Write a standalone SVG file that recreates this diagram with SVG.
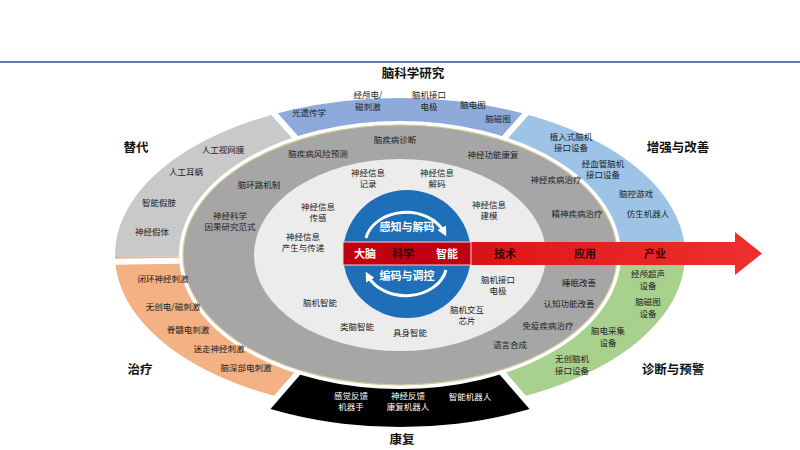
<svg xmlns="http://www.w3.org/2000/svg" width="800" height="450" viewBox="0 0 800 450">
<style>
text{font-family:"Noto Sans CJK SC","Noto Sans",sans-serif;text-anchor:middle;}
.s{font-size:8.5px;fill:#222;}
.sw{font-size:8.5px;fill:#fff;}
.c{font-size:12.5px;font-weight:bold;fill:#111;}
.b{font-size:11px;font-weight:bold;}
.sep{stroke:#fff;stroke-width:6;}
</style>
<defs>
<clipPath id="oc"><ellipse cx="400" cy="255" rx="285" ry="157"/></clipPath>
<clipPath id="bc"><ellipse cx="400" cy="253" rx="292" ry="174"/></clipPath>
<clipPath id="sc"><ellipse cx="400" cy="255" rx="300" ry="180"/></clipPath>
<linearGradient id="rg" x1="0" x2="1" y1="0" y2="0"><stop offset="0" stop-color="#b00010"/><stop offset="0.4" stop-color="#e01818"/><stop offset="1" stop-color="#f03030"/></linearGradient>
<marker id="ah" viewBox="0 0 10 10" refX="5" refY="5" markerWidth="3.2" markerHeight="3.2" orient="auto"><path d="M0,0 L10,5 L0,10 Z" fill="#fff"/></marker>
</defs>
<rect width="800" height="450" fill="#fff"/>
<line x1="0" y1="62" x2="800" y2="62" stroke="#2f4f8f" stroke-width="1.5"/>
<g id="outer-ring">
<g clip-path="url(#oc)">
<polygon points="400,255 -600,262 -600,-600 -290,-520" fill="#c9c9c9"/>
<polygon points="400,255 -290,-520 1090,-520" fill="#8eaadb"/>
<polygon points="400,255 1090,-520 1400,-600 1400,262" fill="#9dc3e6"/>
<polygon points="400,255 1400,262 1400,1000 1050,1005" fill="#a9d18e"/>
<polygon points="400,255 -250,1005 -600,1000 -600,262" fill="#f4b183"/>
</g>
<g clip-path="url(#bc)"><polygon points="400,255 1050,1005 -250,1005" fill="#000"/></g>
<g clip-path="url(#sc)">
<line class="sep" x1="400" y1="255" x2="-290" y2="-520"/>
<line class="sep" x1="400" y1="255" x2="1090" y2="-520"/>
<line class="sep" x1="400" y1="257" x2="700" y2="262"/>
<line class="sep" x1="400" y1="257" x2="100" y2="262"/>
<line class="sep" x1="400" y1="255" x2="1050" y2="1005"/>
<line class="sep" x1="400" y1="255" x2="-250" y2="1005"/>
</g>
</g>
<g id="middle-ring">
<ellipse cx="400" cy="255" rx="219" ry="132" fill="#a6a6a6" stroke="#fff" stroke-width="4"/>
<ellipse cx="400" cy="255" rx="217" ry="130" fill="none" stroke="#d9c89a" stroke-width="1.2"/>
<ellipse cx="400" cy="255" rx="146" ry="96" fill="#ececec"/>
</g>
<g id="core">
<circle cx="407" cy="254" r="64" fill="#1f6fb8"/>
<path d="M366,238 A41,32 0 0 1 444,232" fill="none" stroke="#fff" stroke-width="3" marker-end="url(#ah)"/>
<path d="M446,270 A41,32 0 0 1 368,276" fill="none" stroke="#fff" stroke-width="3" marker-end="url(#ah)"/>
<text class="b" x="407" y="231" fill="#fff">感知与解码</text>
<text class="b" x="407" y="280" fill="#fff">编码与调控</text>
</g>
<g id="arrow">
<path d="M343,242 L735,242 L735,232 L762,253.5 L735,275 L735,265 L343,265 Z" fill="url(#rg)"/>
<rect x="343" y="242" width="128" height="23" fill="#c00010" stroke="#f4d0d0" stroke-width="1"/>
<text class="b" x="365" y="258" fill="#fff">大脑</text>
<text class="b" x="403" y="258" fill="#3a0000">科学</text>
<text class="b" x="447" y="258" fill="#fff">智能</text>
<text class="b" x="505" y="258" fill="#3a0000">技术</text>
<text class="b" x="585" y="258" fill="#3a0000">应用</text>
<text class="b" x="655" y="258" fill="#3a0000">产业</text>
</g>
<g id="categories">
<text class="c" x="413" y="78">脑科学研究</text>
<text class="c" x="136" y="152">替代</text>
<text class="c" x="678" y="152">增强与改善</text>
<text class="c" x="140" y="374">治疗</text>
<text class="c" x="673" y="374">诊断与预警</text>
<text class="c" x="402" y="444">康复</text>
</g>
<g id="labels-outer">
<text class="s" x="309" y="116">光遗传学</text>
<text class="s" x="368" y="98">经颅电/</text><text class="s" x="368" y="110">磁刺激</text>
<text class="s" x="429" y="98">脑机接口</text><text class="s" x="429" y="110">电极</text>
<text class="s" x="473" y="108">脑电图</text>
<text class="s" x="498" y="122">脑磁图</text>
<text class="s" x="223" y="153">人工视网膜</text>
<text class="s" x="186" y="175">人工耳蜗</text>
<text class="s" x="159" y="206">智能假肢</text>
<text class="s" x="152" y="235">神经假体</text>
<text class="s" x="571" y="140">植入式脑机</text><text class="s" x="571" y="151">接口设备</text>
<text class="s" x="603" y="167">经血管脑机</text><text class="s" x="603" y="178">接口设备</text>
<text class="s" x="636" y="197">脑控游戏</text>
<text class="s" x="648" y="217">仿生机器人</text>
<text class="s" x="163" y="282">闭环神经刺激</text>
<text class="s" x="173" y="310">无创电/磁刺激</text>
<text class="s" x="188" y="333">脊髓电刺激</text>
<text class="s" x="219" y="352">迷走神经刺激</text>
<text class="s" x="246" y="371">脑深部电刺激</text>
<text class="s" x="648" y="277">经颅超声</text><text class="s" x="648" y="289">设备</text>
<text class="s" x="648" y="305">脑磁图</text><text class="s" x="648" y="317">设备</text>
<text class="s" x="608" y="334">脑电采集</text><text class="s" x="608" y="346">设备</text>
<text class="s" x="572" y="362">无创脑机</text><text class="s" x="572" y="374">接口设备</text>
<text class="sw" x="351" y="399">感觉反馈</text><text class="sw" x="351" y="410">机器手</text>
<text class="sw" x="408" y="399">神经反馈</text><text class="sw" x="408" y="410">康复机器人</text>
<text class="sw" x="470" y="400">智能机器人</text>
</g>
<g id="labels-middle">
<text class="s" x="395" y="143">脑疾病诊断</text>
<text class="s" x="318" y="157">脑疾病风险预测</text>
<text class="s" x="493" y="158">神经功能康复</text>
<text class="s" x="259" y="188">脑环路机制</text>
<text class="s" x="556" y="183">神经疾病治疗</text>
<text class="s" x="577" y="217">精神疾病治疗</text>
<text class="s" x="230" y="219">神经科学</text><text class="s" x="230" y="230">因果研究范式</text>
<text class="s" x="579" y="286">睡眠改善</text>
<text class="s" x="569" y="307">认知功能改善</text>
<text class="s" x="548" y="329">免疫疾病治疗</text>
<text class="s" x="510" y="348">语言合成</text>
</g>
<g id="labels-inner">
<text class="s" x="368" y="176">神经信息</text><text class="s" x="368" y="187">记录</text>
<text class="s" x="437" y="176">神经信息</text><text class="s" x="437" y="187">解码</text>
<text class="s" x="318" y="210">神经信息</text><text class="s" x="318" y="221">传感</text>
<text class="s" x="489" y="208">神经信息</text><text class="s" x="489" y="219">建模</text>
<text class="s" x="303" y="240">神经信息</text><text class="s" x="303" y="251">产生与传递</text>
<text class="s" x="498" y="283">脑机接口</text><text class="s" x="498" y="294">电极</text>
<text class="s" x="320" y="306">脑机智能</text>
<text class="s" x="467" y="313">脑机交互</text><text class="s" x="467" y="324">芯片</text>
<text class="s" x="357" y="330">类脑智能</text>
<text class="s" x="410" y="336">具身智能</text>
</g>
</svg>
